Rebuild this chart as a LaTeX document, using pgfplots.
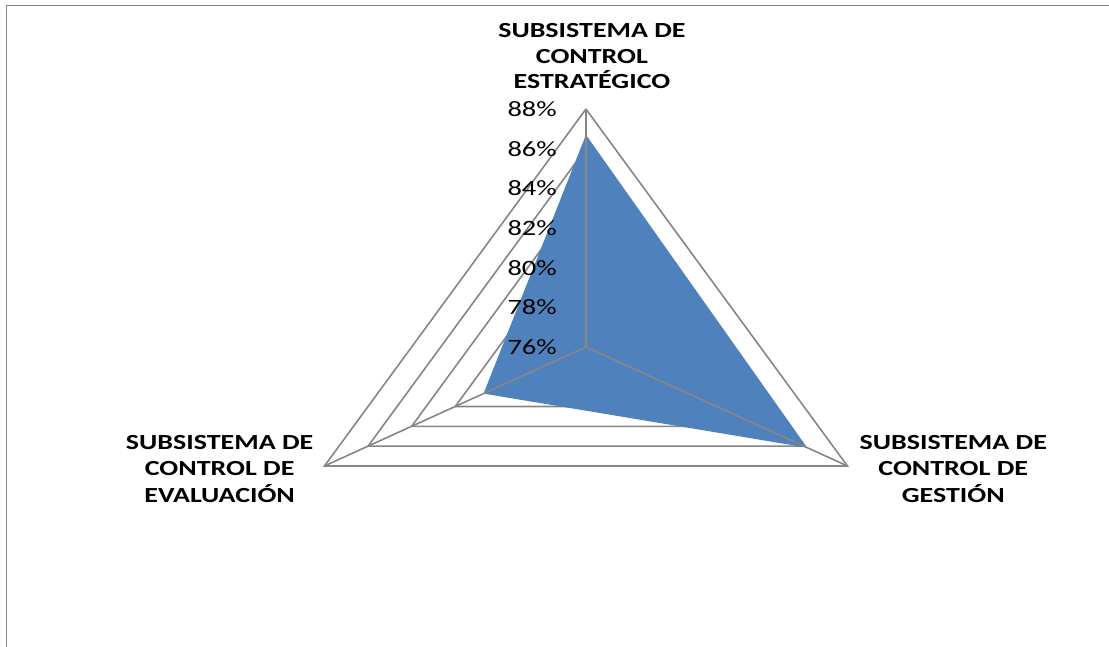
\documentclass[border=0pt]{standalone}
\usepackage{pgfplots}
\pgfplotsset{compat=1.18}
\usepackage{pgfplotstable}
\usepackage{fontspec}
\setmainfont{Carlito}[FakeStretch=1.3]
\definecolor{radarblue}{HTML}{4F81BD}
\definecolor{gridgray}{HTML}{868686}

\pgfplotstableread{
a v
90 86.7
-30 86.15
210 80.7
90 86.7
}\radardata

\pgfplotstableread{
a b
90 0
-30 0
210 0
90 0
}\angles

\begin{document}
\begin{tikzpicture}
\begin{axis}[
  scale only axis, width=1109bp, height=647bp,
  xmin=-23.29, xmax=20.79, ymin=-15.13, ymax=17.50,
  hide axis, clip=false,
  /pgf/number format/assume math mode=true,
]
\pgfplotsinvokeforeach{2,4,6,8,10,12}{
  \addplot[gridgray, line width=1.6bp, no markers] table[x expr={#1*cos(\thisrow{a})}, y expr={#1*sin(\thisrow{a})}] {\angles};
}
\addplot[fill=radarblue, draw=none, no markers] table[x expr={(\thisrow{v}-76)*cos(\thisrow{a})}, y expr={(\thisrow{v}-76)*sin(\thisrow{a})}] {\radardata};
\addplot[gridgray, line width=1.6bp, no markers] coordinates {(0,0) (0,12)};
\addplot[gridgray, line width=1.6bp, no markers] coordinates {(0,0) (-10.3923,-6)};
\addplot[gridgray, line width=1.6bp, no markers] coordinates {(0,0) (10.3923,-6)};

\node[anchor=east, xshift=-29bp, inner sep=0pt, font=\fontsize{22}{25}\selectfont] at (axis cs:0,0) {76\%};
\node[anchor=east, xshift=-29bp, inner sep=0pt, font=\fontsize{22}{25}\selectfont] at (axis cs:0,2) {78\%};
\node[anchor=east, xshift=-29bp, inner sep=0pt, font=\fontsize{22}{25}\selectfont] at (axis cs:0,4) {80\%};
\node[anchor=east, xshift=-29bp, inner sep=0pt, font=\fontsize{22}{25}\selectfont] at (axis cs:0,6) {82\%};
\node[anchor=east, xshift=-29bp, inner sep=0pt, font=\fontsize{22}{25}\selectfont] at (axis cs:0,8) {84\%};
\node[anchor=east, xshift=-29bp, inner sep=0pt, font=\fontsize{22}{25}\selectfont] at (axis cs:0,10) {86\%};
\node[anchor=east, xshift=-29bp, inner sep=0pt, font=\fontsize{22}{25}\selectfont] at (axis cs:0,12) {88\%};

\node[anchor=south, align=center, inner sep=0pt, font=\bfseries\fontsize{21.6}{25.5}\selectfont, xshift=6bp, yshift=20bp] at (axis cs:0,12) {SUBSISTEMA DE\\CONTROL\\ESTRATÉGICO};
\node[anchor=east, align=center, inner sep=0pt, font=\bfseries\fontsize{21.6}{27}\selectfont, xshift=-11bp, yshift=-3bp] at (axis cs:-10.3923,-6) {SUBSISTEMA DE\\CONTROL DE\\EVALUACIÓN};
\node[anchor=west, align=center, inner sep=0pt, font=\bfseries\fontsize{21.6}{27}\selectfont, xshift=12bp, yshift=-3bp] at (axis cs:10.3923,-6) {SUBSISTEMA DE\\CONTROL DE\\GESTIÓN};

\draw[gridgray, line width=1.8bp] (rel axis cs:0.00586,0) -- (rel axis cs:0.00586,0.9915) -- (rel axis cs:1,0.9915);
\end{axis}
\pgfresetboundingbox
\path (current axis.south west) rectangle (current axis.north east);
\end{tikzpicture}
\end{document}
